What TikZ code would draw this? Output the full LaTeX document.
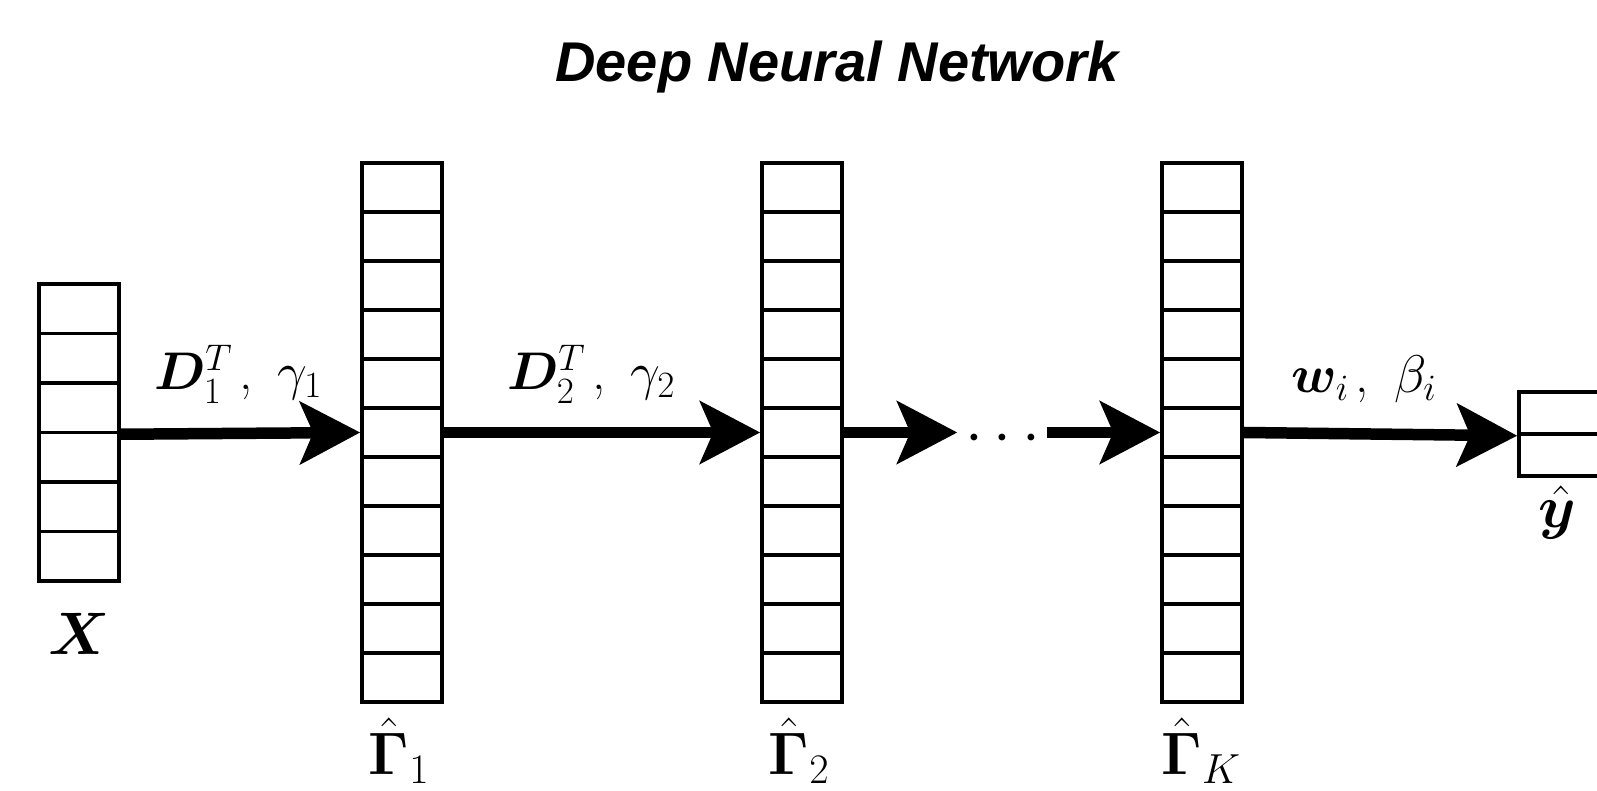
\RequirePackage{fix-cm}
\documentclass[tikz,border=0pt]{standalone}
\usepackage{amsmath}
\usepackage{bm}
\usepackage{fontspec}
\newfontfamily\titlefont{Liberation Sans}
\usetikzlibrary{arrows.meta,positioning}

\begin{document}
\begin{tikzpicture}[
    x=1pt, y=1pt,
    cell/.style={draw, line width=3.5pt, minimum width=80pt, minimum height=49pt, inner sep=0pt},
    outcell/.style={cell, minimum height=42pt},
    veclabel/.style={anchor=base, inner sep=0pt, font=\fontsize{60}{72}\selectfont},
    wlabel/.style={anchor=base, inner sep=0pt, font=\fontsize{53}{63}\selectfont},
    conn/.style={-{Stealth[length=60pt, width=62pt, inset=13pt]}, line width=11.5pt}
  ]
    \path[use as bounding box] (0,0) rectangle (1597,791);
    \clip (0,0) rectangle (1597,791);

    \node[anchor=base, inner sep=0pt, font=\fontsize{56}{67}\selectfont\titlefont\bfseries\itshape] (title) at (837,709) {Deep Neural Network};

    % input, hidden codes and output
    \foreach \i in {1,...,6}
      \node[cell, minimum height=49.5pt] (x-\i) at (79,{507-(\i-0.5)*49.5}) {};
    \foreach \col/\xc in {g1/402, g2/802, gK/1202}
      \foreach \i in {1,...,11}
        \node[cell] (\col-\i) at (\xc,{628-(\i-0.5)*49}) {};
    \foreach \i in {1,2}
      \node[outcell] (yhat-\i) at (1559,{399-(\i-0.5)*42}) {};

    \node[veclabel] (xlbl) at (79,136) {$\bm{X}$};
    \node[veclabel] (g1lbl) at (399,16) {$\hat{\bm{\Gamma}}_1$};
    \node[veclabel] (g2lbl) at (799,16) {$\hat{\bm{\Gamma}}_2$};
    \node[veclabel] (gKlbl) at (1201,16) {$\hat{\bm{\Gamma}}_K$};
    \node[veclabel] (ylbl) at (1557,263) {$\hat{\bm{y}}$};

    \node[wlabel] (d1lbl) at (238,401) {$\bm{D}_1^T$\hspace{7pt}, \hspace{9pt}$\gamma_1$};
    \node[wlabel] (d2lbl) at (591,401) {$\bm{D}_2^T$\hspace{7pt}, \hspace{9pt}$\gamma_2$};
    \node[wlabel] (wlbl) at (1364,398) {$\bm{w}_i$\hspace{7pt}, \hspace{9pt}$\beta_i$};

    \node[anchor=base, inner sep=0pt, outer sep=0pt, font=\fontsize{64}{76}\selectfont] (dots) at (1008,337) {$\cdots$};

    \draw[conn] (g2-6.east) -- ([xshift=-8pt]g2-6.east -| dots.west);
    \draw[conn] ([xshift=-4pt]dots.east |- gK-6.west) -- (gK-6.west);
    \draw[conn] (x-3.south east) -- (g1-6.west);
    \draw[conn] (g1-6.east) -- (g2-6.west);
    \draw[conn] (gK-6.east) -- (yhat-1.south west);
  \end{tikzpicture}
\end{document}
